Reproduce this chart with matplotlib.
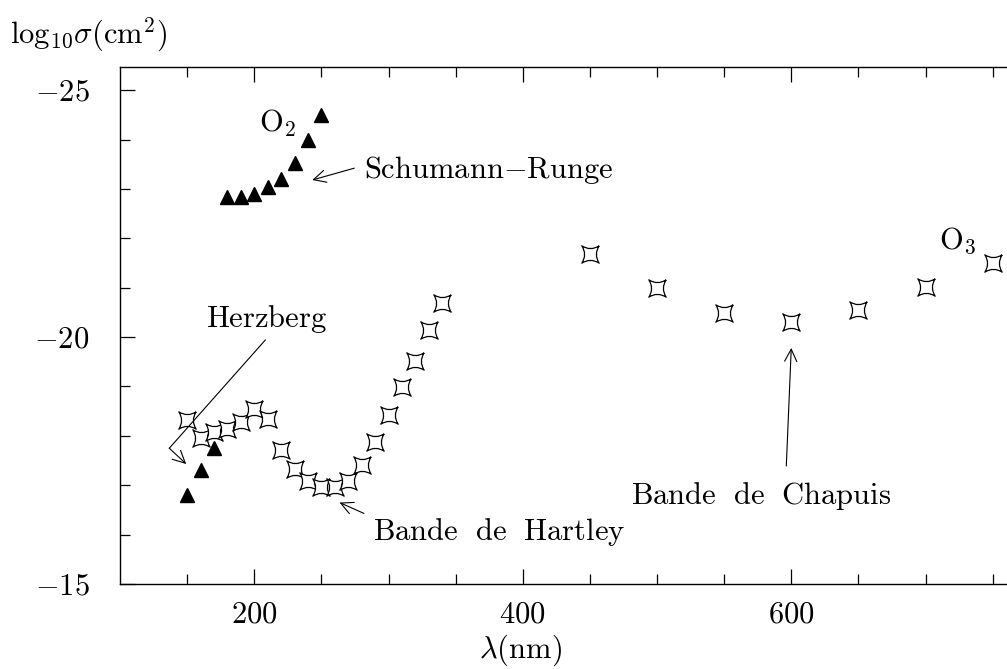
import matplotlib
matplotlib.use("Agg")
import matplotlib.pyplot as plt
from matplotlib.path import Path

plt.rcParams['mathtext.fontset'] = 'cm'
plt.rcParams['font.family'] = 'cmr10'
plt.rcParams['axes.unicode_minus'] = False

# O2 absorption, Schumann-Runge bands
o2_sr_wl = [180, 190, 200, 210, 220, 230, 240, 250]
o2_sr_logs = [-22.83, -22.83, -22.9, -23.04, -23.2, -23.52, -24.0, -24.5]

# O2 absorption, Herzberg continuum
o2_hz_wl = [150, 160, 170]
o2_hz_logs = [-16.8, -17.3, -17.76]

# O3 absorption (Hartley + Chappuis)
o3_wl = [150, 160, 170, 180, 190, 200, 210, 220, 230, 240, 250, 260, 270,
         280, 290, 300, 310, 320, 330, 340, 450, 500, 550, 600, 650, 700, 750]
o3_logs = [-18.32, -17.95, -18.08, -18.13, -18.29, -18.54, -18.34, -17.71,
           -17.32, -17.09, -16.96, -16.96, -17.09, -17.42, -17.87, -18.42,
           -18.99, -19.51, -20.14, -20.68, -21.68, -20.99, -20.49, -20.31,
           -20.55, -21.02, -21.5]

# open four-pointed star, concave sides
c = 0.35
star = Path([(1, 1), (0, c), (-1, 1), (-c, 0), (-1, -1), (0, -c), (1, -1), (c, 0), (1, 1)],
            [Path.MOVETO, Path.CURVE3, Path.CURVE3, Path.CURVE3, Path.CURVE3,
             Path.CURVE3, Path.CURVE3, Path.CURVE3, Path.CURVE3])

fig = plt.figure(figsize=(10.07, 6.69), dpi=100)
ax = fig.add_axes([0.1192, 0.127, 0.9332, 0.773])

ax.plot(o2_sr_wl, o2_sr_logs, '^', color='black', ms=10, ls='none')
ax.plot(o2_hz_wl, o2_hz_logs, '^', color='black', ms=10, ls='none')
ax.plot(o3_wl, o3_logs, marker=star, ms=12.5, mfc='white', mec='black', mew=0.9, ls='none')

ax.set_xlim(100, 800)
ax.set_ylim(-15, -25.47)

ax.set_xticks([200, 400, 600])
ax.set_xticklabels([r'$200$', r'$400$', r'$600$'])
ax.set_xticks(range(150, 800, 50), minor=True)
ax.set_yticks([-25, -20, -15])
ax.set_yticklabels([r'$-25$', r'$-20$', r'$-15$'])
ax.set_yticks(range(-24, -15), minor=True)

ax.tick_params(which='both', direction='in', top=True, right=False, labelsize=22, width=0.9)
ax.tick_params(axis='x', which='major', length=11, pad=12)
ax.tick_params(axis='y', which='major', length=11, pad=22)
ax.tick_params(which='minor', length=7)
for s in ax.spines.values():
    s.set_linewidth(1.0)

fs = 22
ax.text(203.7, -24.15, r'$\mathrm{O}_2$', fontsize=fs, va='baseline')
ax.text(709.9, -21.79, r'$\mathrm{O}_3$', fontsize=fs, va='baseline')
ax.text(281.9, -23.38, r'$\mathrm{Schumann{-}Runge}$', fontsize=fs, va='center')
ax.text(163.7, -20.21, r'$\mathrm{Herzberg}$', fontsize=fs, va='baseline')
ax.text(288.4, -15.89, r'$\mathrm{Bande\ \ de\ \ Hartley}$', fontsize=fs, va='baseline')
ax.text(480.3, -16.63, r'$\mathrm{Bande\ \ de\ \ Chapuis}$', fontsize=fs, va='baseline')

arrow = dict(arrowstyle='->', color='black', lw=0.8, mutation_scale=22, shrinkA=0, shrinkB=0)
ax.annotate('', xy=(243.2, -23.18), xytext=(274.5, -23.42), arrowprops=arrow)
ax.annotate('', xy=(263.5, -16.65), xytext=(281.7, -16.43), arrowprops=arrow)
ax.annotate('', xy=(600, -19.78), xytext=(596.3, -17.39), arrowprops=arrow)
ax.plot([208.2, 136.7], [-19.94, -17.75], color='black', lw=0.8)
ax.annotate('', xy=(149.3, -17.43), xytext=(136.7, -17.75), arrowprops=arrow)

fig.text(10 / 1007, 1 - 35 / 669, r'$\log_{10}\!\sigma(\mathrm{cm}^2)$', fontsize=fs, va='center')
fig.text(520 / 1007, 1 - 650 / 669, r'$\lambda(\mathrm{nm})$', fontsize=fs, va='center', ha='center')

fig.savefig('out.png', dpi=100)
